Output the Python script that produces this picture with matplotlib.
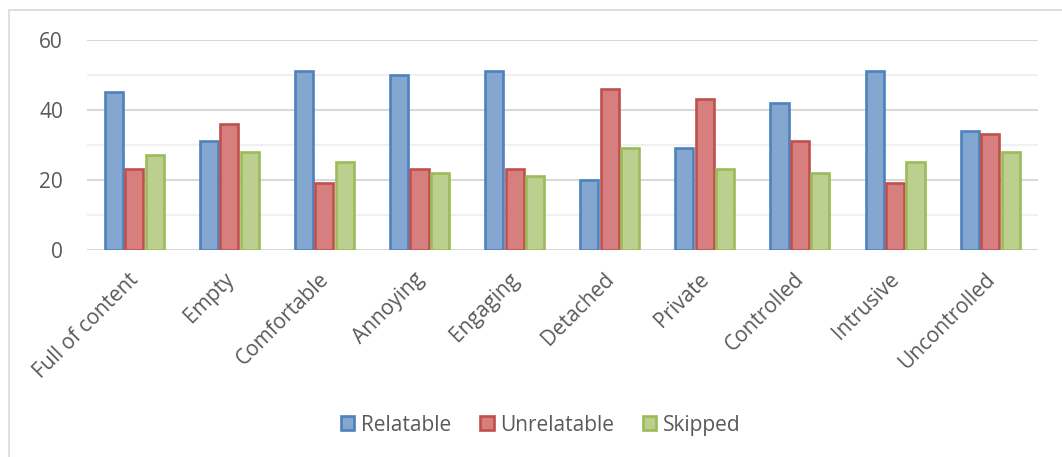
import matplotlib.pyplot as plt
import matplotlib.transforms as mtransforms
import numpy as np

plt.rcParams['font.family'] = ['Open Sans', 'DejaVu Sans']

categories = ['Full of content', 'Empty', 'Comfortable', 'Annoying', 'Engaging',
              'Detached', 'Private', 'Controlled', 'Intrusive', 'Uncontrolled']
relatable = [45, 31, 51, 50, 51, 20, 29, 42, 51, 34]
unrelatable = [23, 36, 19, 23, 23, 46, 43, 31, 19, 33]
skipped = [27, 28, 25, 22, 21, 29, 23, 22, 25, 28]

series = [('Relatable', relatable, '#83a7d0', '#4f81bd'),
          ('Unrelatable', unrelatable, '#d67f7e', '#c0504d'),
          ('Skipped', skipped, '#bccf8f', '#9bbb59')]

text_col = '#595959'
fs = 15

fig = plt.figure(figsize=(10.62, 4.57), dpi=100)
ax = fig.add_axes([0.0816, 0.4536, 0.8955, 0.4589])

# chart area border
fig.patches.append(plt.Rectangle((9 / 1062, -0.1), 1.2, 1 - 10 / 457 + 0.1,
                                 transform=fig.transFigure, fill=False,
                                 edgecolor='#d9d9d9', linewidth=1.2))

x = np.arange(len(categories))
w = 0.19
for i, (name, vals, fc, ec) in enumerate(series):
    ax.bar(x + (i - 1) * 0.215, vals, w, color=fc, edgecolor=ec,
           linewidth=1.9, label=name, zorder=3)

ax.set_xlim(-0.5, len(categories) - 0.5)
ax.set_ylim(0, 60)
ax.set_yticks([0, 20, 40, 60])
ax.set_yticks([10, 30, 50], minor=True)
ax.grid(axis='y', which='major', color='#d9d9d9', linewidth=1.5, zorder=0)
ax.grid(axis='y', which='minor', color='#f0f0f0', linewidth=1.5, zorder=0)
ax.tick_params(axis='y', which='both', length=0, pad=17, labelsize=fs,
               labelcolor=text_col)
ax.set_xticks(x)
ax.set_xticklabels(categories, rotation=45, ha='right', va='top',
                   rotation_mode='anchor', fontsize=fs, color=text_col)
ax.tick_params(axis='x', length=0, pad=14)
# nudge the slanted labels a little to the left
shift = mtransforms.ScaledTranslation(-6 / 100, 0, fig.dpi_scale_trans)
for lab in ax.get_xticklabels():
    lab.set_transform(lab.get_transform() + shift)
for s in ax.spines.values():
    s.set_visible(False)

fig.legend(loc='center', bbox_to_anchor=(0.509, 0.07), ncol=3, frameon=False,
           fontsize=fs, labelcolor=text_col, handlelength=0.65,
           handleheight=0.65, handletextpad=0.3, columnspacing=1.4)

fig.savefig('out.png', dpi=100)
